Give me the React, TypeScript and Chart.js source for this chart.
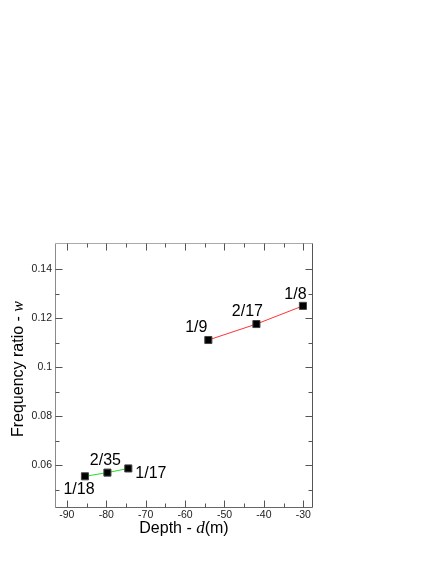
import React, { useEffect, useRef } from "react";
import Chart from "chart.js/auto";

// ---- data ----
const shallowDepths = [-54.1, -41.9, -30.1];
const shallowRatios = [0.1111, 0.1176, 0.125];
const shallowLabels = ["1/9", "2/17", "1/8"];

const deepDepths = [-85.4, -79.7, -74.4];
const deepRatios = [0.0556, 0.0571, 0.0588];
const deepLabels = ["1/18", "2/35", "1/17"];

const xMajorTicks = [-90, -80, -70, -60, -50, -40, -30];
const xMinorTicks = [-85, -75, -65, -55, -45, -35];
const yMajorTicks = [0.06, 0.08, 0.1, 0.12, 0.14];
const yMinorTicks = [0.05, 0.07, 0.09, 0.11, 0.13];
const xTickLabels = ["-90", "-80", "-70", "-60", "-50", "-40", "-30"];
const yTickLabels = ["0.06", "0.08", "0.1", "0.12", "0.14"];

const X_MIN = -93;
const X_MAX = -27.8;
const Y_MIN = 0.0431;
const Y_MAX = 0.1506;

// label offsets (style): [dx, dy, align]
const deepLabelOffsets: [number, number, CanvasTextAlign][] = [
  [-6, 13, "center"],
  [-2, -12, "center"],
  [7, 5, "left"],
];
const shallowLabelOffsets: [number, number, CanvasTextAlign][] = [
  [-12, -12, "center"],
  [-9, -12, "center"],
  [-7.5, -11, "center"],
];

const SANS = "'Liberation Sans', Arial, Helvetica, sans-serif";
const SERIF = "'Liberation Serif', 'Times New Roman', serif";

const framePlugin = {
  id: "frameAndLabels",
  afterDatasetsDraw(chart: any) {
    const ctx = chart.ctx as CanvasRenderingContext2D;
    const { left, right, top, bottom } = chart.chartArea;
    const xs = chart.scales.x;
    const ys = chart.scales.y;

    // point labels
    ctx.save();
    ctx.fillStyle = "#000";
    ctx.font = `16px ${SANS}`;
    ctx.textBaseline = "middle";
    const groups: [number, string[], [number, number, CanvasTextAlign][]][] = [
      [0, deepLabels, deepLabelOffsets],
      [1, shallowLabels, shallowLabelOffsets],
    ];
    groups.forEach(([di, labels, offs]) => {
      const meta = chart.getDatasetMeta(di);
      meta.data.forEach((pt: any, i: number) => {
        const [dx, dy, al] = offs[i];
        ctx.textAlign = al;
        ctx.fillText(labels[i], pt.x + dx, pt.y + dy);
      });
    });
    ctx.restore();

    // frame
    ctx.save();
    ctx.lineWidth = 1;
    const line = (x1: number, y1: number, x2: number, y2: number, c: string) => {
      ctx.strokeStyle = c;
      ctx.beginPath();
      ctx.moveTo(x1, y1);
      ctx.lineTo(x2, y2);
      ctx.stroke();
    };
    const L = Math.round(left) + 0.5;
    const R = Math.round(right) + 0.5;
    const T = Math.round(top) + 0.5;
    const B = Math.round(bottom) + 0.5;
    line(L, T, L, B, "#8a8a8a");
    line(L, T, R, T, "#aaaaaa");
    line(R, T, R, B, "#555555");
    line(L, B, R, B, "#666666");

    const tc = "#555555";
    xMajorTicks.forEach((v) => {
      const x = Math.round(xs.getPixelForValue(v)) + 0.5;
      line(x, B, x, B - 7, tc);
      line(x, T, x, T + 7, tc);
    });
    xMinorTicks.forEach((v) => {
      const x = Math.round(xs.getPixelForValue(v)) + 0.5;
      line(x, B, x, B - 4, tc);
      line(x, T, x, T + 4, tc);
    });
    yMajorTicks.forEach((v) => {
      const y = Math.round(ys.getPixelForValue(v)) + 0.5;
      line(L, y, L + 7, y, tc);
      line(R, y, R - 7, y, tc);
    });
    yMinorTicks.forEach((v) => {
      const y = Math.round(ys.getPixelForValue(v)) + 0.5;
      line(L, y, L + 4, y, tc);
      line(R, y, R - 4, y, tc);
    });
    ctx.restore();

    // axis titles
    ctx.save();
    ctx.fillStyle = "#000";
    ctx.textBaseline = "middle";
    ctx.textAlign = "left";
    // x title
    const xParts: [string, string][] = [
      ["Depth - ", `16px ${SANS}`],
      ["d", `italic 17px ${SERIF}`],
      ["(m)", `16px ${SANS}`],
    ];
    let total = 0;
    xParts.forEach(([t, f]) => {
      ctx.font = f;
      total += ctx.measureText(t).width;
    });
    let cx = 184 - total / 2;
    xParts.forEach(([t, f]) => {
      ctx.font = f;
      ctx.fillText(t, cx, 528.5);
      cx += ctx.measureText(t).width;
    });
    // y title
    ctx.translate(19, 369);
    ctx.rotate(-Math.PI / 2);
    const yParts: [string, string][] = [
      ["Frequency ratio - ", `16px ${SANS}`],
      ["w", `italic 16px ${SERIF}`],
    ];
    total = 0;
    yParts.forEach(([t, f]) => {
      ctx.font = f;
      total += ctx.measureText(t).width;
    });
    cx = -total / 2;
    yParts.forEach(([t, f]) => {
      ctx.font = f;
      ctx.fillText(t, cx, 0);
      cx += ctx.measureText(t).width;
    });
    ctx.restore();
  },
};

export default function App() {
  const ref = useRef<HTMLCanvasElement | null>(null);
  useEffect(() => {
    if (!ref.current) return;
    const pointStyle = {
      pointStyle: "rect" as const,
      pointRadius: 5,
      pointBackgroundColor: "#000",
      pointBorderColor: "#444",
      pointBorderWidth: 1,
      borderWidth: 1,
      fill: false,
      tension: 0,
    };
    const chart = new Chart(ref.current, {
      type: "line",
      data: {
        datasets: [
          {
            data: deepDepths.map((x, i) => ({ x, y: deepRatios[i] })),
            borderColor: "#22dd22",
            ...pointStyle,
          },
          {
            data: shallowDepths.map((x, i) => ({ x, y: shallowRatios[i] })),
            borderColor: "#ff3333",
            ...pointStyle,
          },
        ],
      },
      options: {
        animation: false,
        responsive: false,
        events: [],
        layout: { padding: { top: 243, right: 124, left: 0, bottom: 0 } },
        plugins: { legend: { display: false }, tooltip: { enabled: false } },
        scales: {
          x: {
            type: "linear",
            min: X_MIN,
            max: X_MAX,
            grid: { display: false, drawTicks: false },
            border: { display: false },
            afterBuildTicks: (s: any) => {
              s.ticks = xMajorTicks.map((v) => ({ value: v }));
            },
            afterFit: (s: any) => {
              s.height = 57;
            },
            ticks: {
              padding: 2,
              color: "#222",
              font: { family: SANS, size: 10.5 },
              maxRotation: 0,
              autoSkip: false,
              callback: (v: any) => {
                const i = xMajorTicks.indexOf(Number(v));
                return i >= 0 ? xTickLabels[i] : "";
              },
            },
          },
          y: {
            type: "linear",
            min: Y_MIN,
            max: Y_MAX,
            grid: { display: false, drawTicks: false },
            border: { display: false },
            afterBuildTicks: (s: any) => {
              s.ticks = yMajorTicks.map((v) => ({ value: v }));
            },
            afterFit: (s: any) => {
              s.width = 55;
            },
            ticks: {
              padding: 3,
              color: "#222",
              font: { family: SANS, size: 10.5 },
              autoSkip: false,
              callback: (v: any) => {
                const i = yMajorTicks.findIndex((t) => Math.abs(t - Number(v)) < 1e-9);
                return i >= 0 ? yTickLabels[i] : "";
              },
            },
          },
        },
      },
      plugins: [framePlugin],
    });
    return () => chart.destroy();
  }, []);
  return (
    <div style={{ position: "absolute", left: 0, top: 0, width: 436, height: 564, background: "#fff" }}>
      <canvas ref={ref} width={436} height={564} style={{ display: "block" }} />
    </div>
  );
}
